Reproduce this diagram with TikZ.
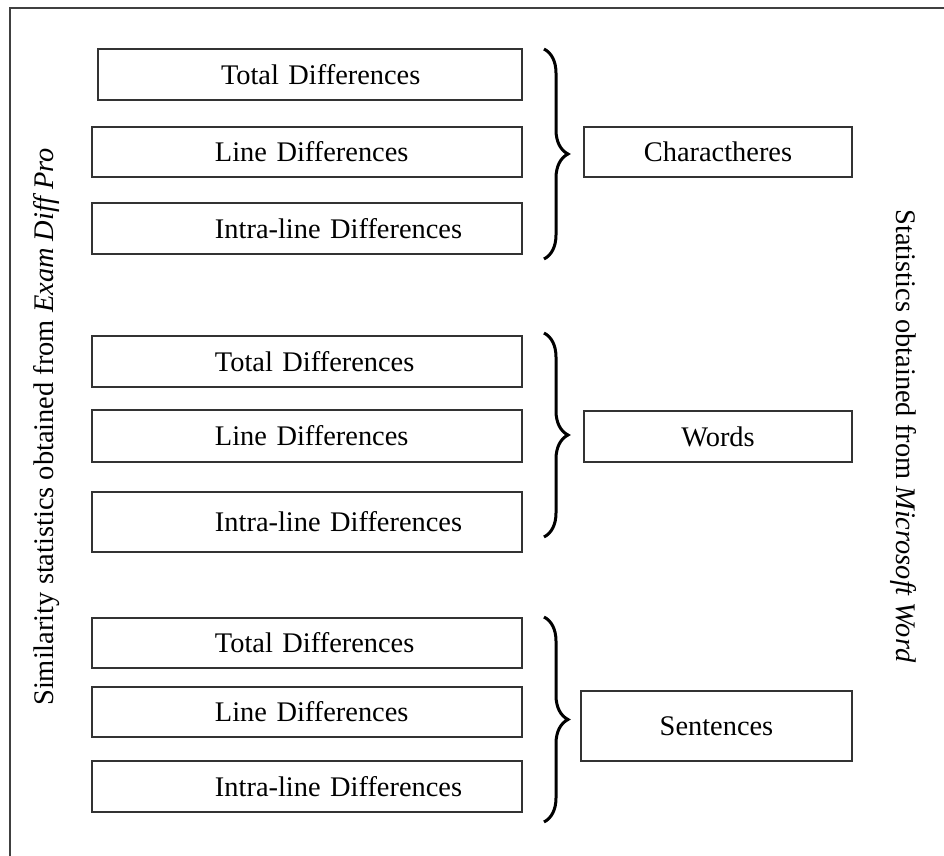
\documentclass[tikz,border=0pt]{standalone}
\usepackage{fontspec}
\setmainfont{Liberation Serif}
\usepackage{tikz}
\usetikzlibrary{decorations.pathreplacing}

\begin{document}
\begin{tikzpicture}[
  x = 0.5pt,
  y = -0.5pt,
  font = \fontsize{14.2}{17}\selectfont,
  semithick
  ]

  \tikzstyle{box}=[
  draw = black!80,
  line width = 0.7pt,
  minimum height = 25pt,
  inner sep = 0pt
  ]
  \tikzstyle{stat}=[
  box,
  inner xsep = 4pt,
  text width = 207pt,
  align = left,
  execute at begin node = {\hspace*{57.5pt}}
  ]
  \tikzstyle{unit}=[
  box,
  minimum width = 134pt
  ]
  \tikzstyle{curly}=[
  decorate,
  decoration = {brace, amplitude = 12pt},
  line width = 1.5pt
  ]

  \useasboundingbox (0,0) rectangle (944,856);
  \draw[line width = 0.6pt, black!75] (10,8) rectangle (960,870);

  % characters
  \node[stat, text width = 204pt, minimum height = 25.5pt] (t1) at (310,74.5) {Total Differences};
  \node[stat] (l1) at (307,152) {Line Differences};
  \node[stat, minimum height = 25.5pt] (i1) at (307,228.5) {Intra-line Differences};
  \node[unit] (c) at (718,152) {Charactheres};

  % words
  \node[stat, minimum height = 25.5pt] (t2) at (307,361.5) {Total Differences};
  \node[stat, minimum height = 26pt] (l2) at (307,436) {Line Differences};
  \node[stat, minimum height = 30pt] (i2) at (307,522) {Intra-line Differences};
  \node[unit, minimum height = 25.5pt] (w) at (718,436.5) {Words};

  % sentences
  \node[stat] (t3) at (307,643) {Total Differences};
  \node[stat] (l3) at (307,712) {Line Differences};
  \node[stat, minimum height = 25.5pt] (i3) at (307,786.5) {Intra-line Differences};
  \node[unit, minimum width = 135.5pt, minimum height = 35pt] (s) at (716.5,726) {Sentences};

  \coordinate (b1) at (544,49);
  \coordinate (e1) at (544,259);
  \coordinate (b2) at (544,333);
  \coordinate (e2) at (544,537);
  \coordinate (b3) at (544,617);
  \coordinate (e3) at (544,822);

  \draw[curly] (b1) -- (e1);
  \draw[curly] (b2) -- (e2);
  \draw[curly] (b3) -- (e3);

  \node[rotate = 90] (src) at (47,427) {Similarity statistics obtained from \textit{Exam Diff Pro}};
  \node[rotate = -90] (ms) at (903,436) {Statistics obtained from \textit{Microsoft Word}};

\end{tikzpicture}
\end{document}
